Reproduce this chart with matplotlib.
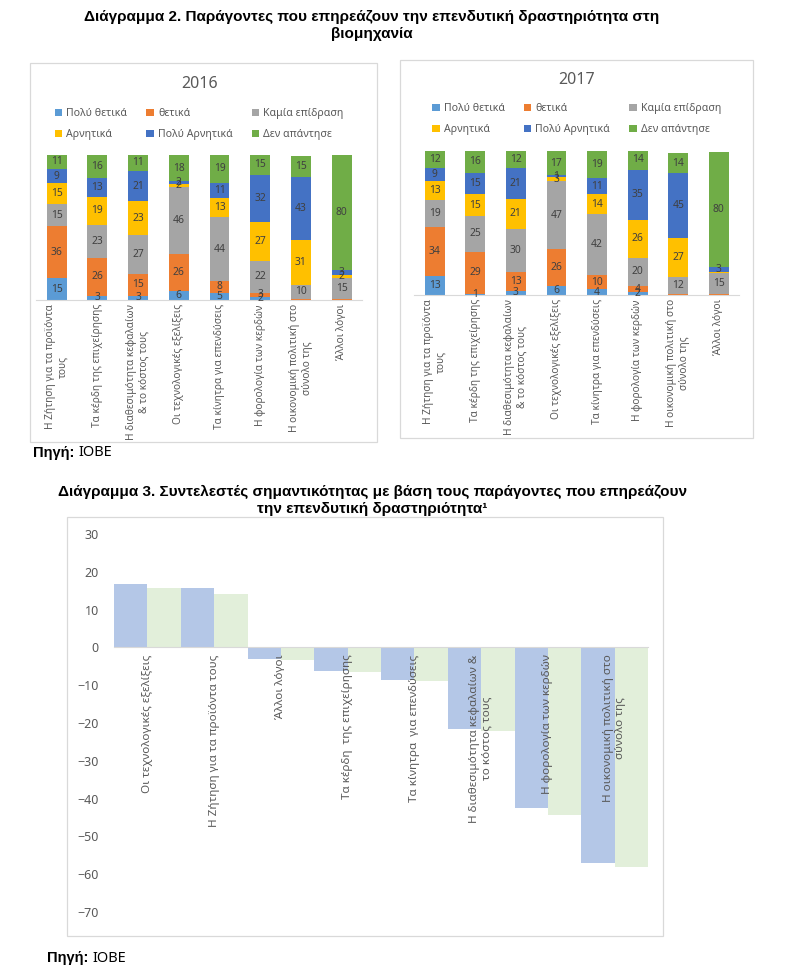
import matplotlib
matplotlib.use("Agg")
import matplotlib.pyplot as plt
from matplotlib.patches import Rectangle

plt.rcParams["font.family"] = ["Noto Sans", "DejaVu Sans"]

W, H = 789, 976

# ---- Diagram 2 data -------------------------------------------------------
CATEGORIES = [
    "Η Ζήτηση για τα προϊόντα\nτους",
    "Τα κέρδη της επιχείρησης",
    "Η διαθεσιμότητα κεφαλαίων\n& το κόστος τους",
    "Οι τεχνολογικές εξελίξεις",
    "Τα κίνητρα για επενδύσεις",
    "Η φορολογία των κερδών",
    "Η οικονομική πολιτική στο\nσύνολο της",
    "Άλλοι λόγοι",
]
SERIES = ["Πολύ θετικά", "θετικά", "Καμία επίδραση",
          "Αρνητικά", "Πολύ Αρνητικά", "Δεν απάντησε"]
COLORS = ["#5B9BD5", "#ED7D31", "#A5A5A5", "#FFC000", "#4472C4", "#70AD47"]

very_pos_2016 = [15, 3, 3, 6, 5, 2, 0, 0]
pos_2016 = [36, 26, 15, 26, 8, 3, 0.6, 0.5]
none_2016 = [15, 23, 27, 46, 44, 22, 10, 15]
neg_2016 = [15, 19, 23, 2, 13, 27, 31, 2]
very_neg_2016 = [9, 13, 21, 2, 11, 32, 43, 3]
no_answer_2016 = [11, 16, 11, 18, 19, 15, 15, 80]

very_pos_2017 = [13, 1, 3, 6, 4, 2, 0, 0]
pos_2017 = [34, 29, 13, 26, 10, 4, 0.6, 0.5]
none_2017 = [19, 25, 30, 47, 42, 20, 12, 15]
neg_2017 = [13, 15, 21, 3, 14, 26, 27, 0.8]
very_neg_2017 = [9, 15, 21, 1, 11, 35, 45, 3]
no_answer_2017 = [12, 16, 12, 17, 19, 14, 14, 80]

# ---- Diagram 3 data -------------------------------------------------------
FACTORS = [
    "Οι τεχνολογικές εξελίξεις",
    "Η Ζήτηση για τα προϊόντα τους",
    "Άλλοι λόγοι",
    "Τα κέρδη  της επιχείρησης",
    "Τα κίνητρα  για επενδύσεις",
    "Η διαθεσιμότητα κεφαλαίων &\nτο κόστος τους",
    "Η φορολογία των κερδών",
    "Η οικονομική πολιτική στο\nσύνολο της",
]
coef_2016 = [16.7, 15.6, -3.2, -6.3, -8.7, -21.6, -42.4, -57.0]
coef_2017 = [15.6, 14.1, -3.4, -6.6, -8.8, -22.0, -44.4, -58.1]

TEXT_GRAY = "#595959"
LABEL_GRAY = "#404040"
BORDER = "#D9D9D9"


def px_axes(fig, x0, y0, x1, y1):
    return fig.add_axes([x0 / W, 1 - y1 / H, (x1 - x0) / W, (y1 - y0) / H])


def box(fig, x0, y0, x1, y1):
    fig.patches.append(Rectangle((x0 / W, 1 - y1 / H), (x1 - x0) / W, (y1 - y0) / H,
                                 transform=fig.transFigure, fill=False,
                                 edgecolor=BORDER, linewidth=0.9))


def stacked_chart(ax, year, series_values, legend_y):
    x = range(len(CATEGORIES))
    bottom = [0.0] * len(CATEGORIES)
    handles = []
    for name, color, values in zip(SERIES, COLORS, series_values):
        bars = ax.bar(x, values, width=0.49, bottom=bottom, color=color, label=name)
        handles.append(bars)
        for i, v in enumerate(values):
            if v >= 1:
                ax.text(i, bottom[i] + v / 2, f"{v:g}", ha="center", va="center",
                        fontsize=7.4, color=LABEL_GRAY)
        bottom = [b + v for b, v in zip(bottom, values)]
    ax.set_xlim(-0.5, len(CATEGORIES) - 0.5)
    ax.set_ylim(0, 100)
    ax.set_yticks([])
    for side in ("left", "right", "top"):
        ax.spines[side].set_visible(False)
    ax.spines["bottom"].set_color(BORDER)
    ax.set_xticks(list(x))
    ax.set_xticklabels(CATEGORIES, rotation=90, fontsize=7.3, color=TEXT_GRAY,
                       multialignment="center")
    ax.tick_params(axis="x", length=0, pad=3)
    ax.text(0.5, 1 + 71 / 145, year, transform=ax.transAxes, ha="center",
            va="center", fontsize=11.5, color=TEXT_GRAY)
    order = [0, 3, 1, 4, 2, 5]
    ax.legend([handles[i] for i in order], [SERIES[i] for i in order], ncol=3,
              loc="center", bbox_to_anchor=(0.5, legend_y), frameon=False,
              fontsize=7.6, labelcolor=TEXT_GRAY, handlelength=0.7,
              handleheight=0.7, handletextpad=0.4, columnspacing=1.8,
              labelspacing=0.95)


fig = plt.figure(figsize=(W / 100, H / 100), dpi=100)

fig.text(372 / W, 1 - 17 / H,
         "Διάγραμμα 2. Παράγοντες που επηρεάζουν την επενδυτική δραστηριότητα στη",
         ha="center", va="center", fontsize=11, fontweight="bold",
         family="Liberation Sans")
fig.text(372 / W, 1 - 34 / H, "βιομηχανία", ha="center", va="center",
         fontsize=11, fontweight="bold", family="Liberation Sans")

box(fig, 30, 63, 377, 442)
box(fig, 400, 60, 753, 438)

ax16 = px_axes(fig, 36.3, 155, 362.0, 300)
stacked_chart(ax16, "2016",
              [very_pos_2016, pos_2016, none_2016, neg_2016, very_neg_2016, no_answer_2016],
              1 + 31 / 145)
ax17 = px_axes(fig, 414.4, 151, 739.1, 295)
stacked_chart(ax17, "2017",
              [very_pos_2017, pos_2017, none_2017, neg_2017, very_neg_2017, no_answer_2017],
              1 + 32 / 144)


def source(x, y):
    t = fig.text(x / W, 1 - y / H, "Πηγή:", ha="left", va="center", fontsize=10.5,
                 fontweight="bold", family="Liberation Sans")
    fig.canvas.draw()
    ext = t.get_window_extent()
    fig.text((ext.x1 + 4) / W, 1 - y / H, "ΙΟΒΕ", ha="left", va="center",
             fontsize=10.5, family="Noto Sans", fontweight="light")


source(33, 453)

fig.text(372 / W, 1 - 492 / H,
         "Διάγραμμα 3. Συντελεστές σημαντικότητας με βάση τους παράγοντες που επηρεάζουν",
         ha="center", va="center", fontsize=11, fontweight="bold",
         family="Liberation Sans")
fig.text(372 / W, 1 - 509 / H, "την επενδυτική δραστηριότητα\u00b9",
         ha="center", va="center", fontsize=11, fontweight="bold",
         family="Liberation Sans")

box(fig, 67, 517, 663, 936)
ax3 = px_axes(fig, 114, 534, 648, 912)
xs = range(len(FACTORS))
ax3.bar([i - 0.25 for i in xs], coef_2016, width=0.5, color="#B4C7E7")
ax3.bar([i + 0.25 for i in xs], coef_2017, width=0.5, color="#E2EFDA")
ax3.set_xlim(-0.5, len(FACTORS) - 0.5)
ax3.set_ylim(-70, 30)
ax3.set_yticks(range(-70, 31, 10))
ax3.tick_params(axis="y", length=0, labelsize=9, labelcolor=TEXT_GRAY, pad=11)
for side in ("left", "right", "top"):
    ax3.spines[side].set_visible(False)
ax3.spines["bottom"].set_position(("data", 0))
ax3.spines["bottom"].set_color(BORDER)
ax3.set_xticks(list(xs))
ax3.set_xticklabels(FACTORS, rotation=90, fontsize=8.4, color=TEXT_GRAY,
                    multialignment="center")
ax3.tick_params(axis="x", length=0, pad=5)

source(47, 958)

fig.savefig("out.png", dpi=100, facecolor="white")
